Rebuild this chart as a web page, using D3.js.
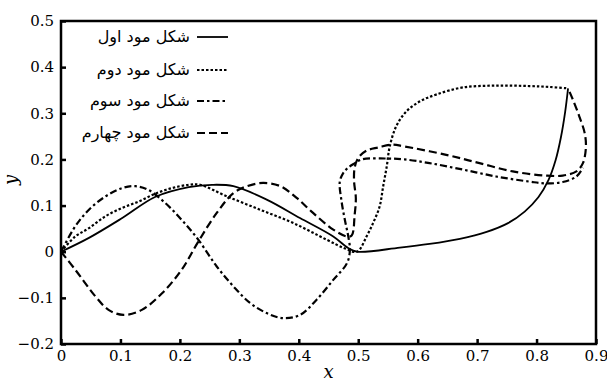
<!DOCTYPE html>
<html>
<head>
<meta charset="utf-8">
<script src="https://cdn.jsdelivr.net/npm/d3@7"></script>
<style>
  body { margin: 0; background: #fff; }
</style>
</head>
<body>
<svg id="chart" width="607" height="381"></svg>
<script>
// tick labels
const xTicks = [0, 0.1, 0.2, 0.3, 0.4, 0.5, 0.6, 0.7, 0.8, 0.9];
const yTicks = [-0.2, -0.1, 0, 0.1, 0.2, 0.3, 0.4, 0.5];

// legend names
const modeNames = ['شکل مود اول', 'شکل مود دوم', 'شکل مود سوم', 'شکل مود چهارم'];

// mode shapes, [x, y] in path order
const mode1 = [
  [0, 0], [0.047, 0.030], [0.103, 0.073], [0.159, 0.119], [0.215, 0.140],
  [0.254, 0.145], [0.290, 0.142], [0.346, 0.113], [0.402, 0.073], [0.458, 0.033],
  [0.483, 0.008], [0.498, 0], [0.570, 0.009], [0.620, 0.017], [0.671, 0.028],
  [0.716, 0.043], [0.752, 0.062], [0.780, 0.087], [0.803, 0.118], [0.820, 0.155],
  [0.832, 0.198], [0.841, 0.248], [0.848, 0.302], [0.853, 0.354]
];
const mode2 = [
  [0, 0], [0.024, 0.033], [0.047, 0.051], [0.075, 0.077], [0.103, 0.095],
  [0.131, 0.109], [0.159, 0.126], [0.187, 0.138], [0.215, 0.145], [0.234, 0.145],
  [0.279, 0.120], [0.335, 0.091], [0.391, 0.062], [0.447, 0.026], [0.478, 0.007],
  [0.498, 0], [0.514, 0.033], [0.525, 0.062], [0.536, 0.098], [0.542, 0.142],
  [0.548, 0.185], [0.553, 0.228], [0.564, 0.272], [0.581, 0.304], [0.604, 0.326],
  [0.632, 0.341], [0.676, 0.356], [0.732, 0.360], [0.788, 0.359], [0.822, 0.357],
  [0.853, 0.354]
];
const mode3 = [
  [0, 0], [0.024, 0.055], [0.047, 0.091], [0.075, 0.120], [0.103, 0.138],
  [0.125, 0.142], [0.147, 0.134], [0.175, 0.106], [0.203, 0.069], [0.231, 0.026],
  [0.262, -0.032], [0.290, -0.075], [0.318, -0.111], [0.346, -0.133], [0.374, -0.144],
  [0.402, -0.137], [0.430, -0.104], [0.458, -0.061], [0.481, -0.025], [0.486, 0.004],
  [0.483, 0.035], [0.478, 0.066], [0.472, 0.109], [0.469, 0.152], [0.475, 0.171],
  [0.483, 0.182], [0.492, 0.190], [0.506, 0.200], [0.545, 0.202], [0.578, 0.200],
  [0.620, 0.192], [0.676, 0.178], [0.732, 0.163], [0.788, 0.152], [0.816, 0.148],
  [0.844, 0.151], [0.867, 0.163], [0.878, 0.182]
];
const mode4 = [
  [0, 0], [0.024, -0.039], [0.058, -0.097], [0.080, -0.126], [0.105, -0.137],
  [0.136, -0.126], [0.170, -0.090], [0.203, -0.039], [0.231, 0.022], [0.262, 0.084],
  [0.290, 0.127], [0.313, 0.142], [0.340, 0.149], [0.369, 0.142], [0.397, 0.116],
  [0.424, 0.084], [0.458, 0.048], [0.481, 0.033], [0.489, 0.035], [0.494, 0.080],
  [0.496, 0.116], [0.493, 0.153], [0.494, 0.182], [0.500, 0.203], [0.514, 0.219],
  [0.534, 0.226], [0.556, 0.232], [0.578, 0.228], [0.648, 0.210], [0.704, 0.192],
  [0.760, 0.174], [0.816, 0.165], [0.844, 0.165], [0.867, 0.174], [0.878, 0.192],
  [0.883, 0.226], [0.881, 0.257], [0.872, 0.293], [0.861, 0.330], [0.853, 0.354]
];

const series = [mode1, mode2, mode3, mode4];
const dashes = [null, '2.5,2', '7,3,2.5,3', '8,4'];

// plot box
const box = { left: 61, right: 596, top: 21, bottom: 344 };

const svg = d3.select('#chart');

const x = d3.scaleLinear().domain([0, 0.9]).range([box.left, box.right]);
const y = d3.scaleLinear().domain([-0.2, 0.5]).range([box.bottom, box.top]);

const fmt = d => d === 0 ? '0' : d3.format('.1f')(d);

// axes with inward ticks
const gx = svg.append('g')
  .attr('transform', 'translate(0,' + box.bottom + ')')
  .call(d3.axisBottom(x).tickValues(xTicks).tickFormat(fmt).tickSize(-5).tickPadding(6));
const gy = svg.append('g')
  .attr('transform', 'translate(' + box.left + ',0)')
  .call(d3.axisLeft(y).tickValues(yTicks).tickFormat(fmt).tickSize(-5).tickPadding(7));

[gx, gy].forEach(g => {
  g.select('.domain').remove();
  g.selectAll('line').attr('stroke', '#000').attr('stroke-width', 2.5);
  g.selectAll('text')
    .attr('fill', '#000')
    .style('font-family', '"DejaVu Serif", serif')
    .style('font-size', '15px');
});

// frame
svg.append('rect')
  .attr('x', box.left).attr('y', box.top)
  .attr('width', box.right - box.left).attr('height', box.bottom - box.top)
  .attr('fill', 'none').attr('stroke', '#000').attr('stroke-width', 2.5);

// axis titles
svg.append('text')
  .attr('x', (box.left + box.right) / 2).attr('y', 378)
  .attr('text-anchor', 'middle')
  .style('font-family', '"DejaVu Serif", serif').style('font-style', 'italic').style('font-size', '18px')
  .text('x');
svg.append('text')
  .attr('transform', 'translate(17,' + 180 + ') rotate(-90)')
  .attr('text-anchor', 'middle')
  .style('font-family', '"DejaVu Serif", serif').style('font-style', 'italic').style('font-size', '18px')
  .text('y');

// curves
const line = d3.line()
  .x(d => x(d[0]))
  .y(d => y(d[1]))
  .curve(d3.curveCatmullRom.alpha(0.5));

svg.append('g').selectAll('path')
  .data(series)
  .enter()
  .append('path')
  .attr('d', d => line(d))
  .attr('fill', 'none')
  .attr('stroke', '#000')
  .attr('stroke-width', (d, i) => i === 0 ? 1.8 : 2.2)
  .attr('stroke-dasharray', (d, i) => dashes[i]);

// legend
const legend = svg.append('g');
const rowY = [37, 70, 101, 133];
modeNames.forEach((name, i) => {
  legend.append('line')
    .attr('x1', 197).attr('x2', 228)
    .attr('y1', rowY[i]).attr('y2', rowY[i])
    .attr('stroke', '#000')
    .attr('stroke-width', i === 0 ? 1.8 : 2.2)
    .attr('stroke-dasharray', dashes[i]);
  legend.append('text')
    .attr('x', 190).attr('y', rowY[i] + 5)
    .attr('text-anchor', 'end')
    .style('font-family', '"DejaVu Sans", sans-serif')
    .style('font-size', '16px')
    .text(name);
});
</script>
</body>
</html>
